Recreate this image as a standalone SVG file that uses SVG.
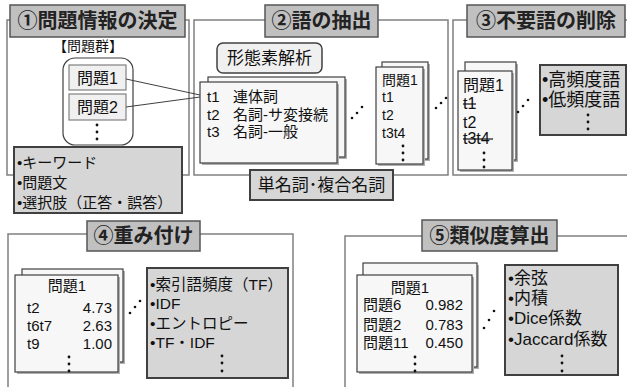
<svg xmlns="http://www.w3.org/2000/svg" width="627" height="387" viewBox="0 0 627 387">
<style>
text{font-family:"Liberation Sans","Noto Sans CJK JP",sans-serif;fill:#111}
.panel{fill:none;stroke:#808080;stroke-width:1.5}
.title{fill:#c0c0c0;stroke:#555;stroke-width:1.5}
.tt{font-size:20px;font-weight:bold;text-anchor:middle;fill:#222}
.gray{fill:#d6d6d6;stroke:#404040;stroke-width:2}
.card{fill:#f7f7f7;stroke:#404040;stroke-width:1.2}
.shadow{fill:#b0b0b0}
.dot{fill:#111}
.ln{stroke:#404040;stroke-width:1;fill:none}
.strike{stroke:#111;stroke-width:1.2}
</style>
<rect width="627" height="387" fill="#fff"/>

<!-- Panel 1 -->
<g id="panel1">
<rect class="panel" x="7" y="20" width="182" height="155"/>
<rect class="title" x="10" y="5" width="175" height="32"/>
<text class="tt" x="97.5" y="28">①問題情報の決定</text>
<text x="88" y="51" font-size="14" text-anchor="middle">【問題群】</text>
<rect x="63" y="58" width="70" height="87" rx="12" fill="#fff" stroke="#404040" stroke-width="1.2"/>
</g>
<g id="q1"><rect x="69" y="65" width="57" height="25" fill="#f0f0f0" stroke="#808080" stroke-width="1.2"/>
<text x="97.5" y="84" font-size="16" text-anchor="middle">問題1</text></g>
<g id="q2"><rect x="69" y="94" width="57" height="26" fill="#f0f0f0" stroke="#808080" stroke-width="1.2"/>
<text x="97.5" y="113" font-size="16" text-anchor="middle">問題2</text></g>
<g id="qdots"><circle class="dot" cx="97" cy="125" r="1.4"/><circle class="dot" cx="97" cy="132" r="1.4"/><circle class="dot" cx="97" cy="139" r="1.4"/></g>
<g id="info">
<rect class="gray" x="14" y="147" width="168" height="66"/>
<text x="17" y="168" font-size="15">•キーワード</text>
<text x="17" y="188" font-size="15">•問題文</text>
<text x="17" y="208" font-size="15">•選択肢（正答・誤答）</text>
</g>

<!-- Panel 2 -->
<g id="panel2">
<rect class="panel" x="194" y="20" width="254" height="155"/>
<rect class="title" x="265" y="5" width="113" height="32"/>
<text class="tt" x="321.5" y="28">②語の抽出</text>
</g>
<g id="morph"><rect x="217" y="43" width="105" height="30" rx="6" fill="#f0f0f0" stroke="#404040" stroke-width="1.5"/>
<text x="269.5" y="64" font-size="17" text-anchor="middle">形態素解析</text></g>
<g id="pos">
<rect class="shadow" x="210" y="79" width="137" height="80"/>
<rect class="card" x="208" y="77" width="137" height="80"/>
<rect class="shadow" x="202" y="84" width="137" height="81"/>
<rect class="card" x="200" y="82" width="137" height="81"/>
<text x="207" y="102" font-size="15">t1</text><text x="233" y="102" font-size="15">連体詞</text>
<text x="207" y="120" font-size="15">t2</text><text x="233" y="120" font-size="15">名詞-サ変接続</text>
<text x="207" y="137" font-size="15">t3</text><text x="233" y="137" font-size="15">名詞-一般</text>
</g>
<g id="terms2">
<rect class="shadow" x="384" y="64" width="46" height="97"/>
<rect class="card" x="382" y="62" width="46" height="97"/>
<rect class="shadow" x="378" y="69" width="47" height="97"/>
<rect class="card" x="376" y="67" width="47" height="97"/>
<text x="382" y="85" font-size="14">問題1</text>
<text x="382" y="102" font-size="14">t1</text>
<text x="382" y="120" font-size="14">t2</text>
<text x="382" y="138" font-size="14">t3t4</text>
<circle class="dot" cx="403" cy="146" r="1.4"/><circle class="dot" cx="403" cy="153" r="1.4"/><circle class="dot" cx="403" cy="160" r="1.4"/>
</g>
<g id="compound"><rect class="gray" x="250" y="170" width="143" height="30"/>
<text x="321.5" y="191" font-size="17" text-anchor="middle">単名詞･複合名詞</text></g>

<!-- Panel 3 -->
<g id="panel3">
<rect class="panel" x="453" y="20" width="190" height="155"/>
<rect class="title" x="467" y="5" width="158" height="32"/>
<text class="tt" x="546" y="28">③不要語の削除</text>
</g>
<g id="terms3">
<rect class="shadow" x="467" y="64" width="51" height="98"/>
<rect class="card" x="465" y="62" width="51" height="98"/>
<rect class="shadow" x="460" y="73" width="54" height="99"/>
<rect class="card" x="458" y="71" width="54" height="99"/>
<text x="463" y="91" font-size="16">問題1</text>
<text x="463" y="109" font-size="16">t1</text>
<text x="463" y="128" font-size="16">t2</text>
<text x="463" y="144" font-size="16">t3t4</text>
<line class="strike" x1="463" y1="104" x2="476" y2="104"/>
<line class="strike" x1="463" y1="139" x2="493" y2="139"/>
<circle class="dot" cx="484" cy="153" r="1.4"/><circle class="dot" cx="484" cy="160" r="1.4"/><circle class="dot" cx="484" cy="167" r="1.4"/>
</g>
<g id="stop">
<rect class="gray" x="540" y="65" width="86" height="70"/>
<text x="542" y="86" font-size="18">•高頻度語</text>
<text x="542" y="106" font-size="18">•低頻度語</text>
<circle class="dot" cx="588" cy="115" r="1.4"/><circle class="dot" cx="588" cy="122" r="1.4"/><circle class="dot" cx="588" cy="129" r="1.4"/>
</g>

<!-- Panel 4 -->
<g id="panel4">
<rect class="panel" x="8" y="234" width="285" height="170"/>
<rect class="title" x="87" y="221" width="113" height="30"/>
<text class="tt" x="143.5" y="243">④重み付け</text>
</g>
<g id="weights">
<rect class="shadow" x="24" y="271" width="101" height="93"/>
<rect class="card" x="22" y="269" width="101" height="93"/>
<rect class="shadow" x="17" y="277" width="103" height="97"/>
<rect class="card" x="15" y="275" width="103" height="97"/>
<text x="67" y="291" font-size="15" text-anchor="middle">問題1</text>
<text x="27" y="313" font-size="15">t2</text><text x="112" y="313" font-size="15" text-anchor="end">4.73</text>
<text x="27" y="331" font-size="15">t6t7</text><text x="112" y="331" font-size="15" text-anchor="end">2.63</text>
<text x="27" y="349" font-size="15">t9</text><text x="112" y="349" font-size="15" text-anchor="end">1.00</text>
<circle class="dot" cx="69" cy="357" r="1.4"/><circle class="dot" cx="69" cy="364" r="1.4"/><circle class="dot" cx="69" cy="371" r="1.4"/>
</g>
<g id="wmethods">
<rect class="gray" x="147" y="268" width="141" height="110"/>
<text x="150" y="290" font-size="15.5">•索引語頻度（TF）</text>
<text x="150" y="309" font-size="15.5">•IDF</text>
<text x="150" y="329" font-size="15.5">•エントロピー</text>
<text x="150" y="348" font-size="15.5">•TF・IDF</text>
<circle class="dot" cx="222" cy="356" r="1.4"/><circle class="dot" cx="222" cy="363" r="1.4"/><circle class="dot" cx="222" cy="371" r="1.4"/>
</g>

<!-- Panel 5 -->
<g id="panel5">
<rect class="panel" x="345" y="236" width="300" height="170"/>
<rect class="title" x="422" y="220" width="135" height="31"/>
<text class="tt" x="489.5" y="243">⑤類似度算出</text>
</g>
<g id="sims">
<rect class="shadow" x="365" y="265" width="114" height="104"/>
<rect class="card" x="363" y="263" width="114" height="104"/>
<rect class="shadow" x="359" y="277" width="115" height="97"/>
<rect class="card" x="357" y="275" width="115" height="97"/>
<text x="410" y="293" font-size="15" text-anchor="middle">問題1</text>
<text x="363" y="310" font-size="15">問題6</text><text x="463" y="310" font-size="15" text-anchor="end">0.982</text>
<text x="363" y="330" font-size="15">問題2</text><text x="463" y="330" font-size="15" text-anchor="end">0.783</text>
<text x="363" y="348" font-size="15">問題11</text><text x="463" y="348" font-size="15" text-anchor="end">0.450</text>
<circle class="dot" cx="415" cy="357" r="1.4"/><circle class="dot" cx="415" cy="364" r="1.4"/><circle class="dot" cx="415" cy="371" r="1.4"/>
</g>
<g id="smethods">
<rect class="gray" x="505" y="265" width="113" height="110"/>
<text x="508" y="284" font-size="17">•余弦</text>
<text x="508" y="304" font-size="17">•内積</text>
<text x="508" y="324" font-size="17">•Dice係数</text>
<text x="508" y="345" font-size="17">•Jaccard係数</text>
<circle class="dot" cx="562" cy="356" r="1.4"/><circle class="dot" cx="562" cy="363" r="1.4"/><circle class="dot" cx="562" cy="371" r="1.4"/>
</g>

<!-- Connectors -->
<g id="connectors">
<line class="ln" x1="126" y1="79" x2="200" y2="95"/>
<line class="ln" x1="126" y1="107" x2="200" y2="97"/>
<circle class="dot" cx="352" cy="118" r="1.3"/><circle class="dot" cx="357" cy="113" r="1.3"/><circle class="dot" cx="362" cy="107" r="1.3"/>
<circle class="dot" cx="436" cy="108" r="1.3"/><circle class="dot" cx="441" cy="103" r="1.3"/><circle class="dot" cx="446" cy="98" r="1.3"/>
<circle class="dot" cx="518" cy="112" r="1.3"/><circle class="dot" cx="523" cy="106" r="1.3"/><circle class="dot" cx="528" cy="100" r="1.3"/>
<circle class="dot" cx="130" cy="313" r="1.3"/><circle class="dot" cx="135" cy="307" r="1.3"/><circle class="dot" cx="140" cy="301" r="1.3"/>
<circle class="dot" cx="484" cy="328" r="1.3"/><circle class="dot" cx="489" cy="320" r="1.3"/><circle class="dot" cx="494" cy="311" r="1.3"/>
</g>
</svg>
